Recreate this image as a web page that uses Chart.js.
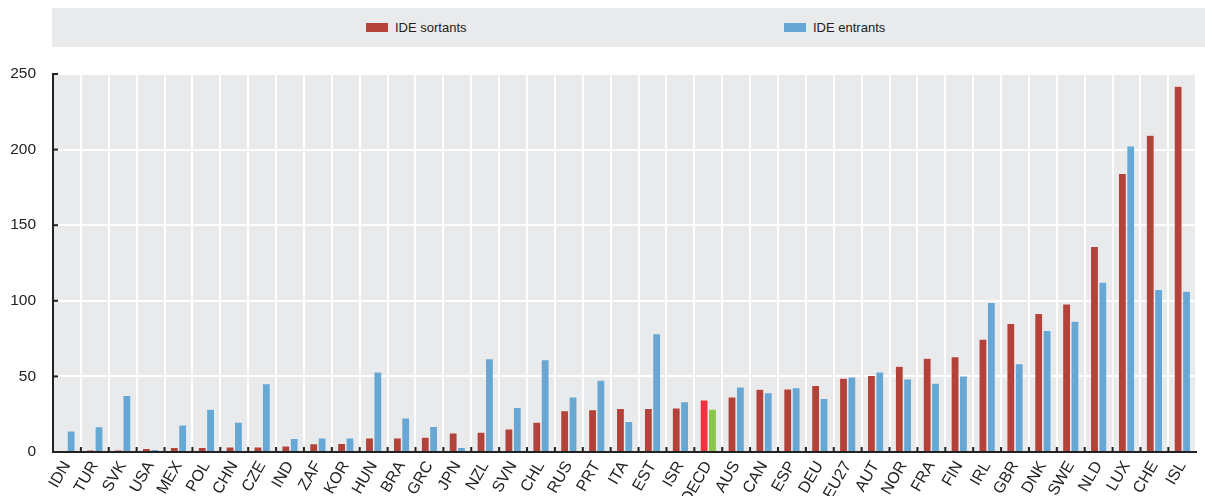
<!DOCTYPE html>
<html><head><meta charset="utf-8">
<script src="https://cdn.jsdelivr.net/npm/chart.js@4.4.1/dist/chart.umd.min.js"></script>
<style>
html,body{margin:0;padding:0;background:#fff;overflow:hidden;width:1205px;height:496px;}
#wrap{position:relative;width:1205px;height:496px;}
#legend{position:absolute;left:52px;top:8px;width:1153px;height:39px;background:#e9eaeb;font-family:"Liberation Sans",Arial,sans-serif;font-size:13px;color:#222;}
.li{position:absolute;top:12px;display:flex;align-items:center;}
.sw{display:inline-block;width:22px;height:9px;margin-right:7px;}
canvas{position:absolute;left:0;top:0;}
</style></head>
<body><div id="wrap"><canvas id="c" width="1205" height="496"></canvas><div id="legend"></div></div>
<script>
const categories = ["IDN","TUR","SVK","USA","MEX","POL","CHN","CZE","IND","ZAF","KOR","HUN","BRA","GRC","JPN","NZL","SVN","CHL","RUS","PRT","ITA","EST","ISR","OECD","AUS","CAN","ESP","DEU","EU27","AUT","NOR","FRA","FIN","IRL","GBR","DNK","SWE","NLD","LUX","CHE","ISL"];
const outwardFDI = [0,1.3,1.3,2.4,3.0,3.1,3.3,3.3,4.0,5.5,5.7,9.3,9.3,9.9,12.6,13.2,15.2,19.8,27.3,28.0,28.9,28.9,29.1,34.4,36.4,41.5,41.7,44.1,48.9,50.7,56.7,62.0,63.0,74.7,85.1,91.7,97.9,136.0,184.3,209.5,241.9];
const inwardFDI = [14.0,16.7,37.5,1.8,18.0,28.4,19.8,45.2,9.0,9.3,9.3,53.0,22.5,17.0,3.1,61.8,29.5,61.0,36.4,47.6,20.3,78.2,33.3,28.4,43.0,39.2,42.5,35.5,49.6,52.9,48.3,45.6,50.3,99.0,58.4,80.5,86.6,112.4,202.4,107.6,106.3];
const seriesLabels = ["IDE sortants","IDE entrants"];
const yTicks = [0,50,100,150,200,250];

const RED="#b3433a", BLUE="#67a7d3", OECD_RED="#ee333d", OECD_GREEN="#8cc34a";
const redColors = categories.map(c => c==="OECD"?OECD_RED:RED);
const blueColors = categories.map(c => c==="OECD"?OECD_GREEN:BLUE);

// legend
const lg=document.getElementById('legend');
[[seriesLabels[0],RED,314],[seriesLabels[1],BLUE,732]].forEach(([t,col,x])=>{
  const d=document.createElement('div');d.className='li';d.style.left=x+'px';
  d.innerHTML='<span class="sw" style="background:'+col+'"></span><span>'+t+'</span>';lg.appendChild(d);
});

const FONT='"Liberation Sans",Arial,sans-serif';
const bgPlugin={id:'bg',beforeDraw(ch){const {ctx,chartArea:a}=ch;ctx.save();ctx.fillStyle='#e9eaeb';ctx.fillRect(a.left,a.top,a.right-a.left,a.bottom-a.top);ctx.restore();},
afterDraw(ch){const {ctx,chartArea:a,scales}=ch;const x=scales.x,y=scales.y;ctx.save();ctx.fillStyle='#222';
  for(let i=1;i<categories.length;i++){const p=(x.getPixelForValue(i-1)+x.getPixelForValue(i))/2;ctx.fillRect(p-1,a.bottom-5,2,5);}
  yTicks.forEach(v=>{const p=y.getPixelForValue(v);ctx.fillRect(a.left,p-1,5,2);});
  ctx.restore();}};

new Chart(document.getElementById('c'),{
  type:'bar',
  data:{labels:categories,datasets:[
    {label:seriesLabels[0],data:outwardFDI,backgroundColor:redColors,borderColor:'rgba(255,255,255,0.25)',borderWidth:0.6},
    {label:seriesLabels[1],data:inwardFDI,backgroundColor:blueColors,borderColor:'rgba(255,255,255,0.25)',borderWidth:0.6}
  ]},
  options:{responsive:false,animation:false,devicePixelRatio:1,
    layout:{padding:{top:74,right:5,left:0,bottom:0}},
    plugins:{legend:{display:false},tooltip:{enabled:false}},
    datasets:{bar:{categoryPercentage:0.6,barPercentage:0.96}},
    scales:{
      x:{grid:{color:'#ffffff',lineWidth:2,offset:true,drawTicks:false},
         border:{color:'#222',width:2},
         ticks:{autoSkip:false,minRotation:60,maxRotation:60,padding:6,color:'#222',font:{family:FONT,size:16}},
         afterFit(s){s.height=44;}},
      y:{min:0,max:250,afterBuildTicks(s){s.ticks=yTicks.map(v=>({value:v}));},
         grid:{color:'#ffffff',lineWidth:2,drawTicks:false},
         border:{color:'#222',width:2},
         ticks:{padding:17,color:'#222',font:{family:FONT,size:15.5}},
         afterFit(s){s.width=53;}}
    }
  },
  plugins:[bgPlugin]
});
</script></body></html>
